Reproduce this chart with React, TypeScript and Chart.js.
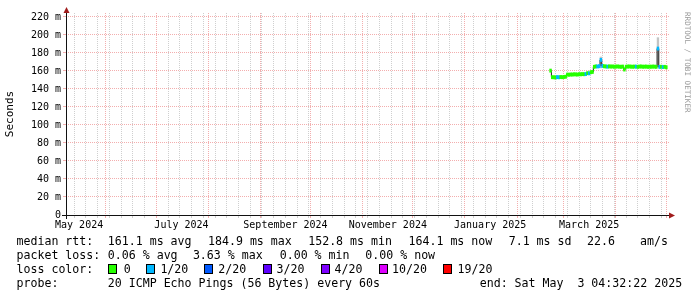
import React, { useEffect, useRef } from 'react';
import { Chart, registerables } from 'chart.js';

Chart.register(...registerables);

// ---------------- data ----------------
const DAY_MS = 86400000;
const END_TIME = Date.UTC(2025, 4, 3, 4, 32, 22);
const SPAN_DAYS = 360;
const START_TIME = END_TIME - SPAN_DAYS * DAY_MS;

const FIRST_SAMPLE_DAY = '2025-02-21';

// daily median RTT (ms), Feb 21 2025 .. May 1 2025
const medianRtt = [
  160.4, 153.1, 153.0, 152.8, 153.2, 153.0, 153.3, 153.1, 153.4, 153.6,
  156.0, 155.8, 156.1, 156.0, 156.3, 156.2, 156.0, 156.4, 156.3, 156.5,
  156.4, 156.6, 157.6, 157.4, 158.6, 158.9, 164.6, 165.1, 165.0, 165.3,
  172.3, 165.6, 165.2, 165.0, 164.8, 165.1, 164.9, 165.0, 164.7, 164.9,
  165.0, 164.8, 164.6, 164.9, 161.6, 164.7, 164.9, 165.0, 164.8, 164.7,
  164.9, 164.8, 164.6, 164.9, 165.0, 164.7, 164.8, 164.9, 164.6, 164.8,
  164.7, 164.9, 164.8, 164.6, 184.9, 164.5, 164.7, 164.4, 164.6, 164.1,
];

// lost pings out of 20 per sample
const lossCount = [
  0, 0, 0, 0, 1, 1, 0, 0, 0, 0,
  0, 0, 0, 0, 0, 0, 0, 0, 0, 0,
  0, 1, 0, 1, 0, 0, 0, 0, 1, 1,
  1, 1, 0, 0, 1, 0, 0, 0, 0, 0,
  0, 0, 0, 0, 0, 0, 0, 0, 0, 0,
  0, 1, 0, 0, 0, 0, 0, 0, 0, 0,
  0, 0, 0, 0, 1, 1, 0, 1, 0, 0,
];

// smoke (min / max ping spread), only visible where it sticks out
const smokeLow: (number | null)[] = [
  null, null, null, null, null, null, null, null, null, null,
  null, null, null, null, null, null, null, null, null, null,
  null, null, null, null, null, null, null, null, null, null,
  163.5, null, null, null, null, null, null, null, null, null,
  null, null, null, null, null, null, null, null, null, null,
  null, null, null, null, null, null, null, null, null, null,
  null, null, null, null, 163.8, null, null, null, null, null,
];
const smokeHigh: (number | null)[] = [
  null, null, null, null, null, null, null, null, null, null,
  null, null, null, null, null, null, null, null, null, null,
  null, null, null, null, null, null, null, null, null, null,
  175.5, null, null, null, null, null, null, null, null, null,
  null, null, null, null, null, null, null, null, null, null,
  null, null, null, null, null, null, null, null, null, null,
  null, null, null, null, 197.0, null, null, null, null, null,
];

const lossSteps = [0, 1, 2, 3, 4, 10, 19];
const lossLabels = ['0', '1/20', '2/20', '3/20', '4/20', '10/20', '19/20'];
const lossColors = ['#26ff00', '#00b8ff', '#0059ff', '#5e00ff', '#7e00ff', '#dd00ff', '#ff0000'];

const yTickValues = [0, 10, 20, 30, 40, 50, 60, 70, 80, 90, 100, 110, 120, 130, 140, 150, 160, 170, 180, 190, 200, 210, 220];
const Y_MAX = 224.4;

const xLabelTexts = ['May 2024', 'July 2024', 'September 2024', 'November 2024', 'January 2025', 'March 2025'];
const xLabelDates = ['2024-05-16', '2024-07-16', '2024-09-16', '2024-11-16', '2025-01-16', '2025-03-16'];
const monthGridDates = [
  '2024-06-01', '2024-07-01', '2024-08-01', '2024-09-01', '2024-10-01', '2024-11-01',
  '2024-12-01', '2025-01-01', '2025-02-01', '2025-03-01', '2025-04-01', '2025-05-01',
];
const FIRST_WEEK_GRID = '2024-05-13';

const rttLabel = 'median rtt:';
const rttStats = ['161.1 ms avg', '184.9 ms max', '152.8 ms min', '164.1 ms now', '7.1 ms sd', '22.6', 'am/s'];
const lossLabel = 'packet loss:';
const lossStats = ['0.06 % avg', '3.63 % max', '0.00 % min', '0.00 % now'];
const colorLabel = 'loss color:';
const probeLabel = 'probe:';
const probeText = '20 ICMP Echo Pings (56 Bytes) every 60s';
const endText = 'end: Sat May  3 04:32:22 2025';

// ---------------- layout (positions only) ----------------
const rttX = [107.8, 208, 308.2, 408.5, 508.7, 587, 640];
const lossX = [107.8, 192.9, 279.7, 365.3];
const boxX = [108.2, 145.7, 204, 262.8, 320.7, 378.6, 443.2];
const boxTextX = [123.8, 160.4, 218.3, 276.6, 334.5, 392, 457.5];
const rowTop = [234, 248, 262, 276];

const BAND_HALF = 1.7;
const MONO = '"DejaVu Sans Mono", monospace';
const MAJOR_GRID = 'rgba(235, 120, 120, 0.6)';
const MINOR_GRID = 'rgba(160, 160, 160, 0.5)';

function colorForLoss(c: number): string {
  let k = 0;
  for (let j = 0; j < lossSteps.length; j++) if (c >= lossSteps[j]) k = j;
  return lossColors[k];
}

const dayMs = (s: string) => Date.parse(s + 'T00:00:00Z');

type TickInfo = { kind: 'minor' | 'major' | 'label'; label: string };

function buildXTicks(): Map<number, TickInfo> {
  const m = new Map<number, TickInfo>();
  for (let t = dayMs(FIRST_WEEK_GRID); t < END_TIME; t += 7 * DAY_MS) {
    if (t > START_TIME) m.set(t, { kind: 'minor', label: '' });
  }
  monthGridDates.forEach((d) => m.set(dayMs(d), { kind: 'major', label: '' }));
  xLabelDates.forEach((d, i) => {
    const t = dayMs(d);
    const prev = m.get(t);
    m.set(t, { kind: prev ? prev.kind : 'label', label: xLabelTexts[i] });
  });
  return m;
}

const axisPlugin = {
  id: 'rrdAxes',
  afterDatasetsDraw(chart: any) {
    const { ctx, chartArea } = chart;
    const { left, right, top, bottom } = chartArea;
    ctx.save();
    ctx.strokeStyle = '#111';
    ctx.lineWidth = 1;
    ctx.beginPath();
    ctx.moveTo(left - 4, bottom + 0.5);
    ctx.lineTo(right + 1, bottom + 0.5);
    ctx.moveTo(left + 0.5, bottom + 4);
    ctx.lineTo(left + 0.5, top - 1);
    ctx.stroke();
    ctx.fillStyle = '#a01c1c';
    ctx.beginPath();
    ctx.moveTo(right + 5, bottom + 0.5);
    ctx.lineTo(right - 1, bottom - 2.5);
    ctx.lineTo(right - 1, bottom + 3.5);
    ctx.closePath();
    ctx.fill();
    ctx.beginPath();
    ctx.moveTo(left + 0.5, top - 6);
    ctx.lineTo(left - 2.5, top);
    ctx.lineTo(left + 3.5, top);
    ctx.closePath();
    ctx.fill();
    ctx.restore();
  },
};

export default function App() {
  const ref = useRef<HTMLCanvasElement>(null);

  useEffect(() => {
    const canvas = ref.current;
    if (!canvas) return;
    const t0 = dayMs(FIRST_SAMPLE_DAY);
    const times = medianRtt.map((_, i) => t0 + i * DAY_MS);
    const xTickMap = buildXTicks();
    const xTickValues = Array.from(xTickMap.keys()).sort((a, b) => a - b);

    const smokeData: any[] = [];
    times.forEach((t, i) => {
      const lo = smokeLow[i];
      const hi = smokeHigh[i];
      if (lo !== null && hi !== null) smokeData.push({ x: t, y: [lo, hi] });
    });

    const chart = new Chart(canvas, {
      type: 'bar',
      data: {
        datasets: [
          {
            type: 'bar',
            label: 'smoke',
            data: smokeData,
            backgroundColor: '#c4c4c4',
            borderWidth: 0,
            grouped: false,
            barPercentage: 1,
            categoryPercentage: 1,
            order: 3,
          } as any,
          {
            type: 'line',
            label: 'median',
            data: times.map((t, i) => ({ x: t, y: medianRtt[i] })),
            borderColor: '#202020',
            borderWidth: 1,
            pointRadius: 0,
            stepped: 'middle',
            fill: false,
            order: 2,
          } as any,
          {
            type: 'bar',
            label: 'loss band',
            data: times.map((t, i) => ({ x: t, y: [medianRtt[i] - BAND_HALF, medianRtt[i] + BAND_HALF] })),
            backgroundColor: lossCount.map((c) => colorForLoss(c)),
            borderWidth: 0,
            grouped: false,
            barPercentage: 1,
            categoryPercentage: 1,
            inflateAmount: 0.4,
            order: 1,
          } as any,
        ],
      },
      options: {
        responsive: false,
        maintainAspectRatio: false,
        devicePixelRatio: 1,
        animation: false,
        events: [],
        layout: { padding: { left: 0, top: 13, right: 27, bottom: 0 } },
        plugins: { legend: { display: false }, tooltip: { enabled: false } },
        scales: {
          x: {
            type: 'linear',
            min: START_TIME,
            max: END_TIME,
            offset: false,
            border: { display: false, dash: [1, 1] },
            grid: {
              offset: false,
              drawTicks: true,
              tickLength: 3,
              lineWidth: 1,
              color: (c: any) => {
                const info = c.tick ? xTickMap.get(c.tick.value) : undefined;
                if (!info) return 'rgba(0,0,0,0)';
                if (info.kind === 'major') return MAJOR_GRID;
                if (info.kind === 'minor') return MINOR_GRID;
                return 'rgba(0,0,0,0)';
              },
            },
            ticks: {
              autoSkip: false,
              maxRotation: 0,
              minRotation: 0,
              padding: 1,
              color: '#000',
              font: { family: MONO, size: 10 },
              callback: (v: any) => {
                const info = xTickMap.get(Number(v));
                return info ? info.label : '';
              },
            },
            afterBuildTicks: (scale: any) => {
              scale.ticks = xTickValues.map((v) => ({ value: v }));
            },
            afterFit: (scale: any) => {
              scale.height = 82;
            },
          },
          y: {
            type: 'linear',
            min: 0,
            max: Y_MAX,
            border: { display: false, dash: [1, 1] },
            grid: {
              drawTicks: true,
              tickLength: 3,
              lineWidth: 1,
              color: (c: any) => {
                if (!c.tick) return 'rgba(0,0,0,0)';
                return c.tick.value % 20 === 0 ? MAJOR_GRID : MINOR_GRID;
              },
            },
            ticks: {
              padding: 2,
              color: '#000',
              font: { family: MONO, size: 10 },
              callback: (v: any) => {
                const n = Number(v);
                if (n % 20 !== 0) return '';
                return n === 0 ? '0' : n + ' m';
              },
            },
            title: {
              display: true,
              text: 'Seconds',
              color: '#000',
              font: { family: MONO, size: 11 },
              padding: { top: 4, bottom: 0 },
            },
            afterBuildTicks: (scale: any) => {
              scale.ticks = yTickValues.map((v) => ({ value: v }));
            },
            afterFit: (scale: any) => {
              scale.width = 66;
            },
          },
        },
      } as any,
      plugins: [axisPlugin as any],
    });

    return () => chart.destroy();
  }, []);

  const textStyle = (left: number, top: number): React.CSSProperties => ({
    position: 'absolute',
    left,
    top,
    fontFamily: MONO,
    fontSize: '11.6px',
    lineHeight: '14px',
    whiteSpace: 'pre',
    color: '#000',
  });

  return (
    <div style={{ position: 'absolute', left: 0, top: 0, width: 697, height: 297, background: '#fff', overflow: 'hidden' }}>
      <canvas ref={ref} width={697} height={297} style={{ position: 'absolute', left: 0, top: 0, width: 697, height: 297 }} />
      <div
        style={{
          position: 'absolute',
          left: 683,
          top: 12,
          writingMode: 'vertical-rl',
          fontFamily: MONO,
          fontSize: '7.6px',
          lineHeight: '8px',
          color: '#9a9a9a',
          whiteSpace: 'pre',
        }}
      >
        RRDTOOL / TOBI OETIKER
      </div>
      <div style={textStyle(16.5, rowTop[0])}>{rttLabel}</div>
      {rttStats.map((s, i) => (
        <div key={'r' + i} style={textStyle(rttX[i], rowTop[0])}>{s}</div>
      ))}
      <div style={textStyle(16.5, rowTop[1])}>{lossLabel}</div>
      {lossStats.map((s, i) => (
        <div key={'l' + i} style={textStyle(lossX[i], rowTop[1])}>{s}</div>
      ))}
      <div style={textStyle(16.5, rowTop[2])}>{colorLabel}</div>
      {lossLabels.map((s, i) => (
        <React.Fragment key={'c' + i}>
          <div
            style={{
              position: 'absolute',
              left: Math.round(boxX[i]),
              top: rowTop[2] + 2,
              width: 7,
              height: 8,
              border: '1px solid #000',
              background: lossColors[i],
            }}
          />
          <div style={textStyle(boxTextX[i], rowTop[2])}>{s}</div>
        </React.Fragment>
      ))}
      <div style={textStyle(16.5, rowTop[3])}>{probeLabel}</div>
      <div style={textStyle(107.8, rowTop[3])}>{probeText}</div>
      <div style={textStyle(479.7, rowTop[3])}>{endText}</div>
    </div>
  );
}
